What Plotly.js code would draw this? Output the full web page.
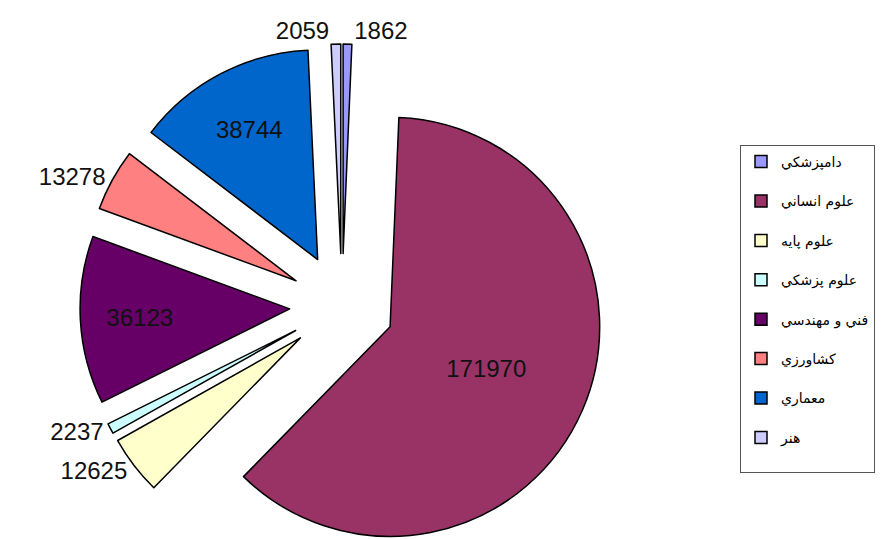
<!DOCTYPE html>
<html>
<head>
<meta charset="utf-8">
<script src="https://cdn.plot.ly/plotly-3.0.1.min.js"></script>
<style>
html, body { margin:0; padding:0; width:883px; height:539px; overflow:hidden; background:#fff; }
#wrap { width:883px; height:539px; overflow:hidden; position:relative; }
#chart { width:883px; height:600px; }
</style>
</head>
<body>
<div id="wrap"><div id="chart"></div></div>
<script>
// Data
const categories = ["دامپزشكي", "علوم انساني", "علوم پايه", "علوم پزشكي", "فني و مهندسي", "كشاورزي", "معماري", "هنر"];
const values = [1862, 171970, 12625, 2237, 36123, 13278, 38744, 2059];
const colors = ["#9999FF", "#993366", "#FFFFCC", "#CCFFFF", "#660066", "#FF8080", "#0066CC", "#CCCCFF"];
const textPositions = ["outside", "inside", "outside", "outside", "inside", "outside", "inside", "outside"];

const W = 883, H = 600;

const trace = {
  type: "pie",
  labels: categories.map(c => c + "<br>\u00a0"),
  values: values,
  sort: false,
  direction: "clockwise",
  rotation: 0,
  pull: values.map(() => 0.25),
  marker: { colors: colors, line: { color: "#000000", width: 1.5 } },
  textinfo: "value",
  texttemplate: "%{value:d}",
  textposition: textPositions,
  insidetextorientation: "horizontal",
  textfont: { family: "Liberation Sans, Arial, sans-serif", size: 24, color: "#111111" },
  insidetextfont: { family: "Liberation Sans, Arial, sans-serif", size: 24, color: "#111111" },
  outsidetextfont: { family: "Liberation Sans, Arial, sans-serif", size: 24, color: "#111111" },
  hoverinfo: "none",
  domain: { x: [42 / W, 642 / W], y: [(H - 568) / H, (H - 44) / H] }
};

const layout = {
  width: W, height: H,
  margin: { l: 0, r: 0, t: 0, b: 0 },
  paper_bgcolor: "#ffffff",
  showlegend: true,
  legend: {
    x: 740 / W, y: (H - 145) / H, xanchor: "left", yanchor: "top",
    bordercolor: "#555555", borderwidth: 1,
    bgcolor: "#ffffff",
    font: { family: "DejaVu Sans, sans-serif", size: 14, color: "#000000" },
    valign: "top",
    traceorder: "normal"
  }
};

Plotly.newPlot("chart", [trace], layout, { staticPlot: true, displayModeBar: false });
</script>
</body>
</html>
